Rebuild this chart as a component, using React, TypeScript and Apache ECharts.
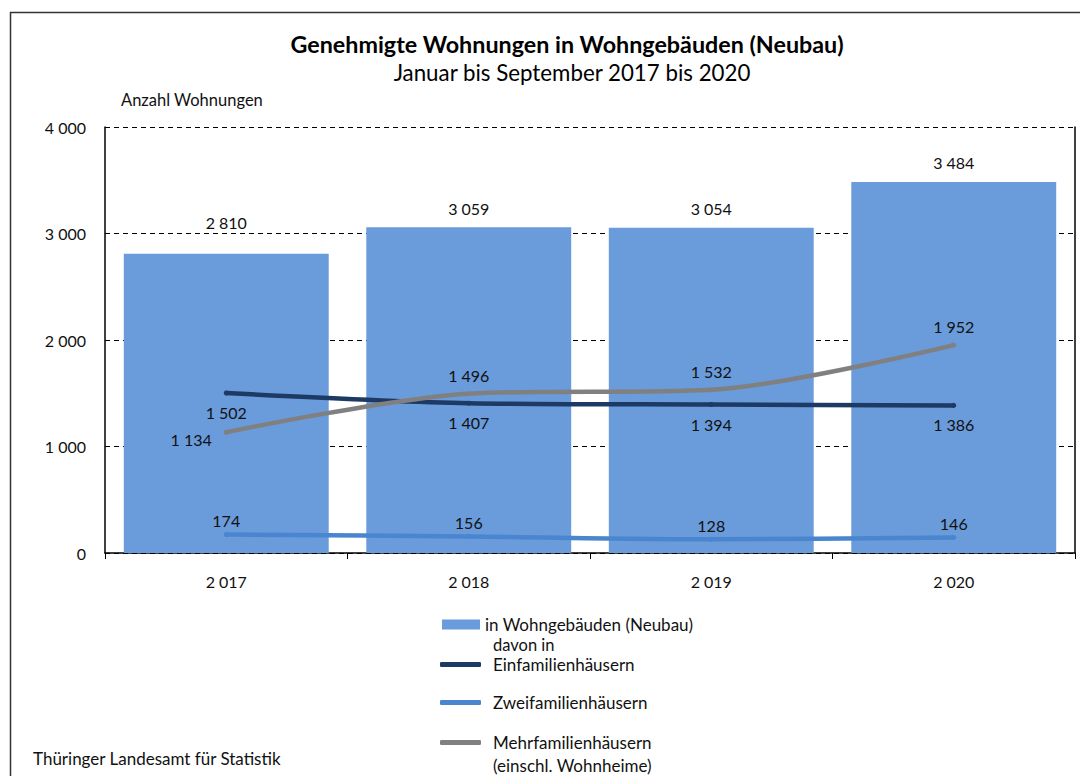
import React, { useEffect, useRef } from "react";
import * as echarts from "echarts";

const categories = ["2 017", "2 018", "2 019", "2 020"];
const totalValues = [2810, 3059, 3054, 3484];
const einfamilienValues = [1502, 1407, 1394, 1386];
const zweifamilienValues = [174, 156, 128, 146];
const mehrfamilienValues = [1134, 1496, 1532, 1952];
const yTicks = [0, 1000, 2000, 3000, 4000];

const FONT = "Lato";
const fmt = (v: number) => {
  const s = String(Math.round(v));
  return s.replace(/\B(?=(\d{3})+(?!\d))/g, " ");
};

export default function App() {
  const ref = useRef<HTMLDivElement>(null);
  useEffect(() => {
    document.body.style.margin = "0";
    const chart = echarts.init(ref.current!, null, { renderer: "svg" });
    const barColor = "#6a9bdb";
    const navy = "#1c3a63";
    const blue = "#4a86d0";
    const gray = "#808080";
    const lbl = { fontFamily: FONT, fontSize: 16, color: "#111" };
    const legText = { fontFamily: FONT, fontSize: 17, color: "#111" };
    chart.setOption({
      animation: false,
      backgroundColor: "#fff",
      title: [
        {
          text: "Genehmigte Wohnungen in Wohngebäuden (Neubau)",
          left: 562,
          top: 27,
          textAlign: "center",
          textStyle: { fontFamily: FONT, fontSize: 23.3, fontWeight: "bold", color: "#000" },
        },
        {
          text: "Januar bis September 2017 bis 2020",
          left: 567,
          top: 56,
          textAlign: "center",
          textStyle: { fontFamily: FONT, fontSize: 22.3, fontWeight: "normal", color: "#000" },
        },
      ],
      grid: { left: 105, right: 5, top: 127, bottom: 223, containLabel: false },
      xAxis: {
        type: "category",
        data: categories,
        axisLine: { show: true, lineStyle: { color: "#000", width: 1.5 } },
        axisTick: { show: true, length: 6, alignWithLabel: false, lineStyle: { color: "#000" } },
        axisLabel: { margin: 20, fontFamily: FONT, fontSize: 16, color: "#111" },
        splitLine: { show: false },
      },
      yAxis: [
        {
          type: "value",
          min: 0,
          max: 4000,
          interval: 1000,
          axisLine: { show: true, lineStyle: { color: "#000", width: 1.5 } },
          axisTick: { show: false },
          axisLabel: {
            margin: 19,
            fontFamily: FONT,
            fontSize: 16,
            color: "#111",
            formatter: (v: number) => (yTicks.includes(v) ? fmt(v) : ""),
          },
          splitLine: { show: true, lineStyle: { color: "#000", type: [5, 4], width: 1 } },
        },
        {
          type: "value",
          min: 0,
          max: 4000,
          interval: 1000,
          position: "right",
          axisLine: { show: true, lineStyle: { color: "#000", width: 1.5 } },
          axisTick: { show: false },
          axisLabel: { show: false },
          splitLine: { show: false },
        },
      ],
      legend: [
        {
          data: ["in Wohngebäuden (Neubau)"],
          left: 442,
          top: 616,
          padding: 0,
          icon: "rect",
          itemWidth: 38,
          itemHeight: 10,
          textStyle: legText,
          selectedMode: false,
        },
        {
          data: ["Einfamilienhäusern"],
          left: 440,
          top: 656,
          padding: 0,
          icon: "roundRect",
          itemWidth: 41,
          itemHeight: 5,
          textStyle: { ...legText, padding: [0, 0, 0, 7] },
          selectedMode: false,
        },
        {
          data: ["Zweifamilienhäusern"],
          left: 440,
          top: 694,
          padding: 0,
          icon: "roundRect",
          itemWidth: 41,
          itemHeight: 5,
          textStyle: { ...legText, padding: [0, 0, 0, 7] },
          selectedMode: false,
        },
        {
          data: ["Mehrfamilienhäusern"],
          left: 440,
          top: 734,
          padding: 0,
          icon: "roundRect",
          itemWidth: 41,
          itemHeight: 5,
          textStyle: { ...legText, padding: [0, 0, 0, 7] },
          selectedMode: false,
        },
      ],
      graphic: [
        {
          type: "rect",
          shape: { x: 10.5, y: 12.5, width: 1200, height: 900 },
          style: { fill: "none", stroke: "#333", lineWidth: 1.5 },
          silent: true,
          z: -10,
        },
        {
          type: "text",
          x: 121,
          y: 91,
          style: { text: "Anzahl Wohnungen", fontFamily: FONT, fontSize: 16.5, fill: "#111" },
        },
        {
          type: "text",
          x: 493,
          y: 636,
          style: { text: "davon in", fontFamily: FONT, fontSize: 16.5, fill: "#111" },
        },
        {
          type: "text",
          x: 493,
          y: 757,
          style: { text: "(einschl. Wohnheime)", fontFamily: FONT, fontSize: 17, fill: "#111" },
        },
        {
          type: "text",
          x: 33,
          y: 750,
          style: { text: "Thüringer Landesamt für Statistik", fontFamily: FONT, fontSize: 17, fill: "#111" },
        },
      ],
      series: [
        {
          name: "in Wohngebäuden (Neubau)",
          type: "bar",
          data: totalValues.map((v, i) => ({
            value: v,
            label: { distance: i === 0 ? 23 : 11 },
          })),
          barCategoryGap: "15.5%",
          itemStyle: { color: barColor },
          label: { show: true, position: "top", formatter: (p: any) => fmt(p.value), ...lbl },
          z: 1,
        },
        {
          name: "Einfamilienhäusern",
          type: "line",
          data: einfamilienValues,
          color: navy,
          smooth: 0.3,
          symbol: "circle",
          symbolSize: 5,
          itemStyle: { color: navy },
          lineStyle: { color: navy, width: 4.5 },
          label: { show: true, position: "bottom", distance: 9, formatter: (p: any) => fmt(p.value), ...lbl },
          z: 3,
        },
        {
          name: "Zweifamilienhäusern",
          type: "line",
          data: zweifamilienValues,
          color: blue,
          smooth: 0.3,
          symbol: "circle",
          symbolSize: 5,
          itemStyle: { color: blue },
          lineStyle: { color: blue, width: 4.5 },
          label: { show: true, position: "top", distance: 3, formatter: (p: any) => fmt(p.value), ...lbl },
          z: 3,
        },
        {
          name: "Mehrfamilienhäusern",
          type: "line",
          data: mehrfamilienValues.map((v, i) =>
            i === 0
              ? { value: v, label: { position: "left", distance: 12, offset: [0, 7] } }
              : { value: v }
          ),
          color: gray,
          smooth: 0.3,
          symbol: "circle",
          symbolSize: 5,
          itemStyle: { color: gray },
          lineStyle: { color: gray, width: 4.5 },
          label: { show: true, position: "top", distance: 8, formatter: (p: any) => fmt(p.value), ...lbl },
          z: 3,
        },
      ],
    });
    return () => chart.dispose();
  }, []);
  return <div ref={ref} style={{ width: 1080, height: 776 }} />;
}
